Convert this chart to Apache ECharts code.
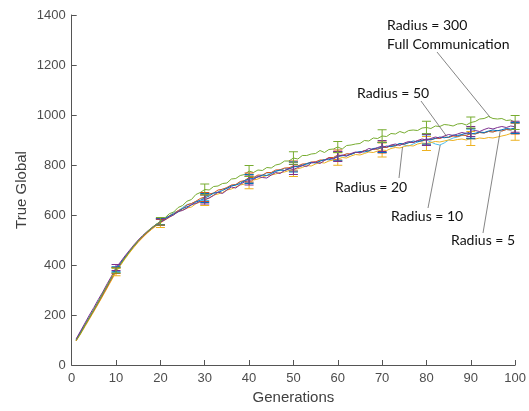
<!DOCTYPE html>
<html><head><meta charset="utf-8">
<script src="https://cdn.jsdelivr.net/npm/echarts@6/dist/echarts.min.js"></script>
<style>html,body{margin:0;padding:0;background:#fff}#c{width:529px;height:411px}</style>
</head><body><div id="c"></div>
<script>
// ---- data ----
const xTicks = [0,10,20,30,40,50,60,70,80,90,100];
const yTicks = [0,200,400,600,800,1000,1200,1400];
const errGens = [10,20,30,40,50,60,70,80,90,100];

const blueVals = [102,132,162,192,222,254,286,318,350,383,
408,432,455,476,497,515,532,547,561,574,
586,595,604,612,626,633,640,652,658,668,
676,688,690,698,707,716,720,726,738,744,
746,752,760,758,766,775,780,778,784,792,
795,797,806,810,808,815,822,821,826,834,
838,836,843,850,854,852,857,866,868,870,
876,873,878,886,884,889,896,893,898,904,
902,906,912,909,912,920,918,922,928,925,
927,932,930,936,940,937,941,946,944,948];
const redVals = [98,128,158,188,218,248,280,312,345,378,
404,428,452,474,494,512,529,545,559,570,
584,597,605,618,625,640,646,655,666,672,
684,688,700,703,710,720,722,734,738,750,
750,760,759,770,770,780,781,788,789,796,
796,804,805,812,813,820,820,830,830,840,
838,845,844,850,850,858,856,864,863,870,
870,877,876,884,883,890,890,897,896,902,
900,907,906,912,910,916,914,920,918,926,
924,930,928,934,932,938,936,942,940,946];
const yellowVals = [96,124,154,184,214,245,276,308,340,372,
398,424,448,470,491,510,527,542,556,568,
580,590,602,614,620,628,632,645,652,660,
668,680,684,690,700,704,712,720,724,730,
740,744,752,758,760,764,770,772,778,782,
785,790,798,796,804,810,808,816,820,824,
830,828,836,842,840,846,852,850,856,860,
858,866,870,868,874,878,876,884,888,886,
890,894,892,896,900,898,902,904,900,906,
904,908,906,910,908,912,916,920,926,934];
const purpleVals = [104,136,168,200,230,262,292,325,356,390,
412,436,458,480,500,518,534,549,562,572,
580,592,600,614,618,628,642,646,655,662,
668,678,692,686,700,712,708,722,733,738,
742,754,750,748,760,770,766,778,786,782,
790,798,794,808,812,806,818,828,824,834,
840,836,846,852,848,856,866,862,870,876,
872,880,884,878,888,894,890,898,904,900,
906,912,908,916,922,918,924,930,926,934,
938,934,942,948,944,950,954,950,956,953];
const greenVals = [98,126,160,190,222,252,286,318,350,378,
402,428,452,476,497,515,533,548,562,575,
588,605,612,630,638,655,662,682,690,702,
700,714,716,726,728,744,746,758,762,776,
770,780,778,790,788,800,804,816,816,828,
824,838,838,844,846,858,850,862,864,872,
864,878,880,884,886,898,896,908,906,916,
914,926,924,934,928,938,940,938,948,950,
946,956,954,962,960,956,964,966,960,970,
974,984,986,994,986,984,986,978,980,970];
const lightBlueVals = [100,130,160,190,220,252,284,316,348,380,
406,430,454,475,495,514,530,546,560,572,
586,596,610,616,630,642,646,654,660,674,
682,686,692,704,706,718,720,732,734,746,
748,756,758,768,768,776,778,786,786,794,
794,802,802,810,810,818,818,828,828,836,
836,844,842,850,850,858,856,864,864,870,
870,878,880,886,880,876,884,892,896,900,
892,884,880,888,900,908,912,918,920,926,
924,930,928,934,932,938,936,942,940,946];

const blueErr = [10,12,18,18,20,18,20,20,20,22];
const redErr = [12,12,18,18,20,20,22,22,20,22];
const yellowErr = [15,18,22,25,28,25,28,28,28,35];
const purpleErr = [12,12,18,18,20,20,22,22,20,22];
const greenErr = [10,15,22,22,25,22,25,25,22,28];
const lightBlueErr = [10,12,16,16,18,18,20,20,18,20];

const seriesDefs = [
  {name:'lightblue', vals:lightBlueVals, err:lightBlueErr, color:'#4DBEEE'},
  {name:'yellow', vals:yellowVals, err:yellowErr, color:'#EDB120'},
  {name:'red', vals:redVals, err:redErr, color:'#D95319'},
  {name:'blue', vals:blueVals, err:blueErr, color:'#0072BD'},
  {name:'purple', vals:purpleVals, err:purpleErr, color:'#7E2F8E'},
  {name:'green', vals:greenVals, err:greenErr, color:'#77AC30'}
];

// annotation labels: text, anchor point on curve [generation, value]
const annotations = [
  {text:'Radius = 300\nFull Communication', anchor:[94.3, 992], tx:387, ty:16, lx:437, ly:52},
  {text:'Radius = 50', anchor:[84.5, 916], tx:357, ty:84, lx:421, ly:101},
  {text:'Radius = 20', anchor:[74.6, 872], tx:335, ty:178, lx:399, ly:178},
  {text:'Radius = 10', anchor:[83.1, 880], tx:391, ty:207, lx:428, ly:208},
  {text:'Radius = 5', anchor:[96.6, 932], tx:451, ty:231, lx:483, ly:233}
];

// ---- chart ----
const chart = echarts.init(document.getElementById('c'), null, {renderer:'canvas'});
function errRender(params, api){
  const x = api.value(0), lo = api.value(1), hi = api.value(2);
  const a = api.coord([x, lo]), b = api.coord([x, hi]);
  const w = 4.5;
  const st = {stroke: api.visual('color'), lineWidth: 1};
  return {type:'group', children:[
    {type:'line', shape:{x1:a[0],y1:a[1],x2:b[0],y2:b[1]}, style:st},
    {type:'line', shape:{x1:a[0]-w,y1:a[1],x2:a[0]+w,y2:a[1]}, style:st},
    {type:'line', shape:{x1:b[0]-w,y1:b[1],x2:b[0]+w,y2:b[1]}, style:st}
  ]};
}
const series = [];
seriesDefs.forEach(d => {
  series.push({
    type:'line', name:d.name, data:d.vals.map((v,i)=>[i+1, v]),
    showSymbol:false, symbol:'none', lineStyle:{width:1, color:d.color}, itemStyle:{color:d.color},
    animation:false, z:2
  });
  series.push({
    type:'custom', name:d.name+'-err', renderItem:errRender,
    itemStyle:{color:d.color}, animation:false, z:3,
    encode:{x:0, y:[1,2]},
    data: errGens.map((g,k)=>[g, d.vals[g-1]-d.err[k], d.vals[g-1]+d.err[k]])
  });
});
const axisCol = '#555';
const ff = '"Liberation Sans", Arial, sans-serif';
chart.setOption({
  animation:false,
  grid:{left:71.7, right:12, top:15, bottom:46, containLabel:false},
  xAxis:{type:'value', min:0, max:100, interval:10,
    name:'Generations', nameLocation:'middle', nameGap:25, nameMoveOverlap:false,
    nameTextStyle:{fontFamily:ff, fontSize:15, color:'#404040'},
    axisLine:{lineStyle:{color:axisCol, width:1}},
    axisTick:{inside:true, length:5, lineStyle:{color:axisCol}},
    axisLabel:{fontFamily:ff, fontSize:13, color:'#4d4d4d', margin:7,
      formatter:v=>xTicks.includes(v)?String(v):''},
    splitLine:{show:false}},
  yAxis:{type:'value', min:0, max:1400, interval:200,
    name:'True Global', nameLocation:'middle', nameGap:42, nameMoveOverlap:false,
    nameTextStyle:{fontFamily:ff, fontSize:15, color:'#404040'},
    axisLine:{show:true, lineStyle:{color:axisCol, width:1}},
    axisTick:{show:true, inside:true, length:5, lineStyle:{color:axisCol}},
    axisLabel:{fontFamily:ff, fontSize:13, color:'#4d4d4d', margin:6,
      formatter:v=>yTicks.includes(v)?String(v):''},
    splitLine:{show:false}},
  series: series
});
const g = [];
annotations.forEach(a => {
  const p = chart.convertToPixel({gridIndex:0}, a.anchor);
  g.push({type:'line', shape:{x1:a.lx, y1:a.ly, x2:p[0], y2:p[1]},
    style:{stroke:'#666', lineWidth:0.8}, z:10});
  g.push({type:'text', x:a.tx, y:a.ty, z:11,
    style:{text:a.text, fontFamily:'Lato', fontSize:14, lineHeight:19, fill:'#111', textVerticalAlign:'top'}});
});
chart.setOption({graphic:g});
</script></body></html>
